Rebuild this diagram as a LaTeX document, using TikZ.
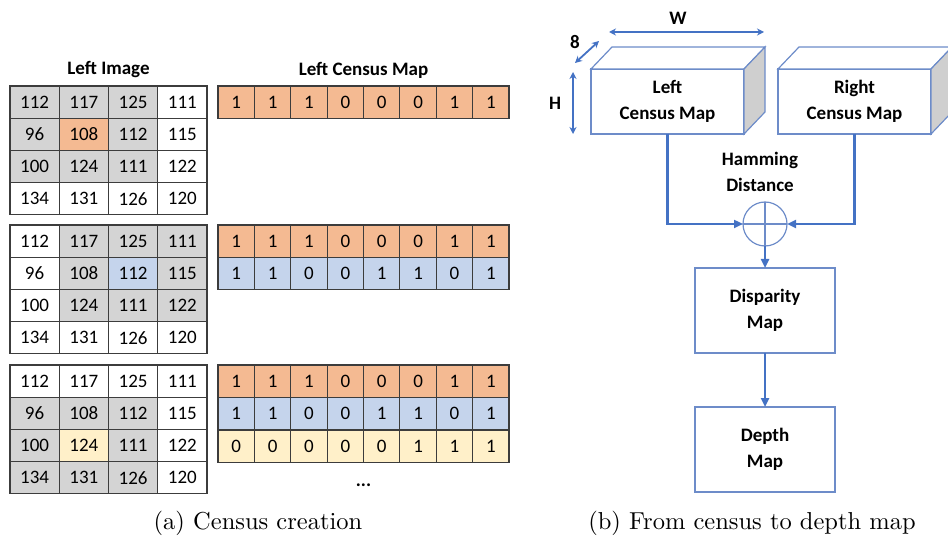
\documentclass[tikz,border=0pt]{standalone}
\usepackage{fontspec}
\newfontfamily\calfont{Carlito}
\usepackage{tikz}
\usetikzlibrary{positioning,arrows.meta}
\definecolor{cgray}{HTML}{D4D4D4}
\definecolor{corange}{HTML}{F4BA92}
\definecolor{cblue}{HTML}{C5D4EC}
\definecolor{cyellow}{HTML}{FFF0C9}
\definecolor{cline}{HTML}{3C3C3C}
\definecolor{cflow}{HTML}{4472C4}
\definecolor{cboxline}{HTML}{6D8CC9}
\definecolor{cside}{HTML}{CFCFCF}

\begin{document}
\begin{tikzpicture}
  [x=1pt,y=-1pt,
   every node/.style={font=\calfont\fontsize{19}{26}\selectfont},
   imgcell/.style={draw=cline,line width=1.1pt,minimum width=49.25pt,minimum height=32.2pt,inner sep=0pt},
   bitcell/.style={draw=cline,line width=1.1pt,minimum width=36.375pt,minimum height=32.4pt,inner sep=0pt},
   title/.style={font=\calfont\bfseries\fontsize{19}{26}\selectfont},
   mapbox/.style={draw=cboxline,line width=1.2pt,fill=white,minimum width=153pt,minimum height=65pt,outer sep=0pt,align=center,title},
   flowbox/.style={draw=cboxline,line width=1.2pt,minimum width=140pt,minimum height=85pt,outer sep=0pt,align=center,title},
   conn/.style={draw=cflow,line width=2.4pt,-{Triangle[length=9pt,width=8pt]}},
   dim/.style={draw=cflow,line width=1.8pt,{Stealth[length=7pt,width=7pt]}-{Stealth[length=7pt,width=7pt]}},
   caption/.style={font=\rmfamily\fontsize{10}{12}\selectfont,scale=2.45,transform shape}]
  \clip (0,0) rectangle (948,537);

  \node[title] (ttlimg) at (108.5,70) {Left Image};
  \node[title] (ttlmap) at (363.5,70) {Left Census Map};

  \foreach \g/\ytop/\ro/\co/\ctr in {a/86/0/0/corange,b/225/0/1/cblue,c/365/1/0/cyellow}
    \foreach \val [count=\i from 0] in {112,117,125,111,96,108,112,115,100,124,111,122,134,131,126,120} {
      \pgfmathtruncatemacro\rr{div(\i,4)}
      \pgfmathtruncatemacro\kk{mod(\i,4)}
      \pgfmathtruncatemacro\shade{(\rr>=\ro)*(\rr<=\ro+2)*(\kk>=\co)*(\kk<=\co+2)+(\rr==\ro+1)*(\kk==\co+1)}
      \ifcase\shade \def\cellfill{white}\or\def\cellfill{cgray}\else\def\cellfill{\ctr}\fi
      \node[imgcell,fill=\cellfill] (\g\rr\kk) at ({34.6+49.25*\kk},{\ytop+16.1+32.2*\rr}) {\val};
    }

  \foreach \bits/\ytop/\bcol [count=\k] in {{1,1,1,0,0,0,1,1}/86/corange,{1,1,1,0,0,0,1,1}/225/corange,
      {1,1,0,0,1,1,0,1}/257.5/cblue,{1,1,1,0,0,0,1,1}/365/corange,{1,1,0,0,1,1,0,1}/397.5/cblue,
      {0,0,0,0,0,1,1,1}/430/cyellow}
    \foreach \bit [count=\j from 0] in \bits
      \node[bitcell,fill=\bcol] (m\k\j) at ({236.2+36.375*\j},{\ytop+16.2}) {\bit};

  \node[title] (dots) at (363.5,485) {...};

  \node[mapbox] (lcm) at (667.5,101.5) {Left\\Census Map};
  \node[mapbox,right=34pt of lcm] (rcm) {Right\\Census Map};
  \foreach \m in {lcm,rcm} {
    \draw[draw=cboxline,line width=1.2pt,fill=white] (\m.north west) -- ++(21,-22) -- ++(153,0) -- (\m.north east) -- cycle;
    \draw[draw=cboxline,line width=1.2pt,fill=cside] (\m.north east) -- ++(21,-22) -- ++(0,65) -- (\m.south east) -- cycle;
  }

  \coordinate (wl) at (609,32);
  \coordinate (wr) at (764,32);
  \coordinate (dl) at (575,63);
  \coordinate (dr) at (599,41);
  \coordinate (ht) at (573,72);
  \coordinate (hb) at (573,134);
  \draw[dim] (wl) -- (wr);
  \draw[dim] (dl) -- (dr);
  \draw[dim] (ht) -- (hb);
  \node[title] (wlbl) at (678,18) {W};
  \node[title] (dlbl) at (575,42) {8};
  \node[title] (hlbl) at (555,103) {H};

  \node[title,align=center] (hamlbl) at (760,172) {Hamming\\Distance};
  \node[draw=cboxline,line width=1.2pt,circle,minimum size=44pt,inner sep=0pt,outer sep=0pt] (xor) at (765,224) {};
  \draw[draw=cboxline,line width=1.2pt] (xor.north) -- (xor.south) (xor.west) -- (xor.east);
  \draw[conn] (lcm.south) |- (xor.west);
  \draw[conn] (rcm.south) |- (xor.east);

  \node[flowbox,below=22pt of xor] (disp) {Disparity\\Map};
  \node[flowbox,below=54pt of disp] (depth) {Depth\\Map};
  \draw[conn] (xor) -- (disp);
  \draw[conn] (disp) -- (depth);

  \node[caption] (capa) at (258,523) {(a) Census creation};
  \node[caption] (capb) at (752,523) {(b) From census to depth map};
\end{tikzpicture}
\end{document}
